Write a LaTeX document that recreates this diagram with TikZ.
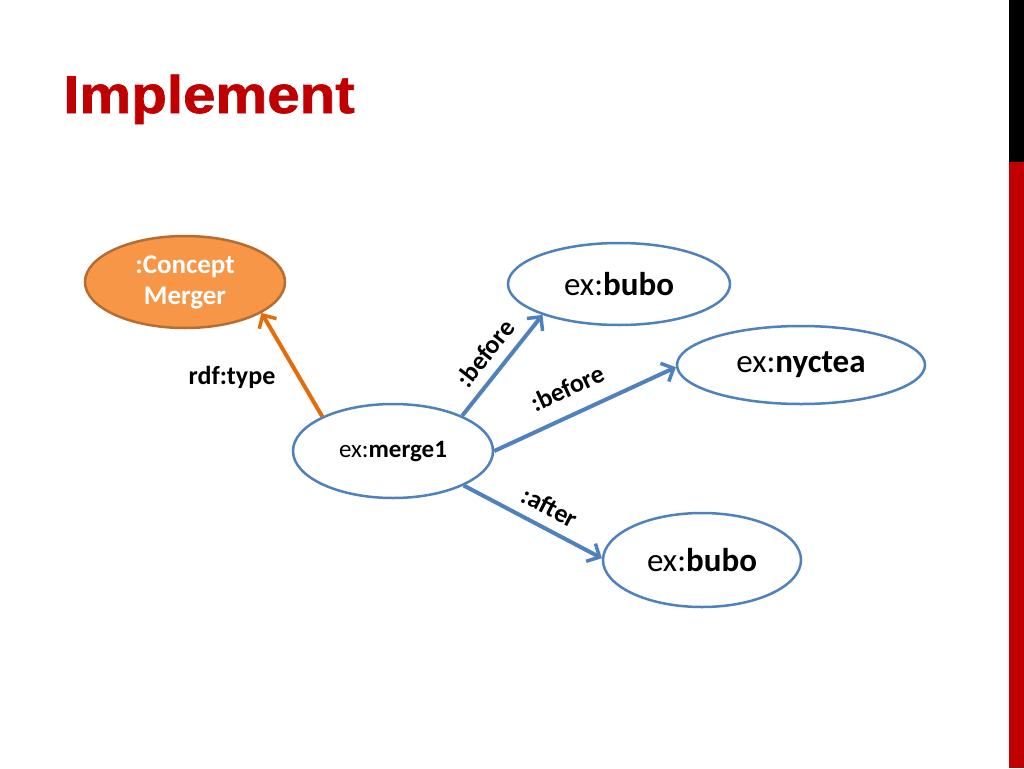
\documentclass[tikz,border=0pt]{standalone}
\usepackage{fontspec}
\setmainfont{Carlito}
\newfontfamily\titlefont[FakeBold=1.2]{Liberation Sans Bold}
\usetikzlibrary{arrows.meta,shapes.geometric}
\definecolor{titlered}{HTML}{C00000}
\definecolor{edgeblue}{HTML}{4F81BD}
\definecolor{conceptfill}{HTML}{F79646}
\definecolor{conceptborder}{HTML}{B66D31}
\definecolor{typeorange}{HTML}{E46C0A}
\tikzset{
  res/.style={ellipse, draw=edgeblue, line width=2.5pt, fill=white, inner sep=0pt},
  concept/.style={ellipse, draw=conceptborder, line width=2.5pt, fill=conceptfill, inner sep=0pt,
    text=white, font=\fontsize{27}{33}\selectfont\bfseries, align=center},
  rel/.style={draw=edgeblue, line width=4pt, -{Straight Barb[length=10pt,width=20pt,line width=3.5pt]}},
  typerel/.style={draw=typeorange, line width=4pt, -{Straight Barb[length=10pt,width=20pt,line width=3.5pt]}},
  lbl/.style={font=\fontsize{26}{30}\selectfont\bfseries, inner sep=0pt}
}
\begin{document}
\begin{tikzpicture}[x=1pt,y=-1pt]
\useasboundingbox (0,0) rectangle (1024,768);
\fill[white] (0,0) rectangle (1024,768);
\fill[black] (1009,0) rectangle (1024,162);
\fill[titlered] (1009,162) rectangle (1024,768);
\node[anchor=base west, inner sep=0pt, text=titlered] (title) at (63,113)
  {\scalebox{1.1}[1]{\titlefont\fontsize{53}{60}\selectfont Implement}};
% nodes
\node[concept, minimum width=200pt, minimum height=92pt] (concept) at (185,282) {:Concept\\[-2pt]Merger};
\node[res, minimum width=200pt, minimum height=94pt, font=\fontsize{25}{30}\selectfont] (merge) at (393,451) {ex:\textbf{merge1}};
\node[res, minimum width=222pt, minimum height=82pt, font=\fontsize{33}{40}\selectfont] (bubo1) at (619,284) {ex:\textbf{bubo}};
\node[res, minimum width=248pt, minimum height=78pt, font=\fontsize{33}{40}\selectfont] (nyctea) at (801,365) {ex:\textbf{nyctea}};
\node[res, minimum width=198pt, minimum height=94pt, font=\fontsize{33}{40}\selectfont] (bubo2) at (702,560) {ex:\textbf{bubo}};
% connectors
\draw[typerel] (merge.154) -- (concept.-22);
\draw[rel] (merge.27) -- (bubo1.-158);
\draw[rel] (merge.0) -- (nyctea.181);
\draw[rel] (merge.-26) -- (bubo2.179);
% labels
\node[lbl] (ltype) at (232,377) {rdf:type};
\node[lbl, rotate=52] (lbefore1) at (485,353) {:before};
\node[lbl, rotate=25] (lbefore2) at (567,388) {:before};
\node[lbl, rotate=-27] (lafter) at (550,507) {:after};
\end{tikzpicture}
\end{document}
